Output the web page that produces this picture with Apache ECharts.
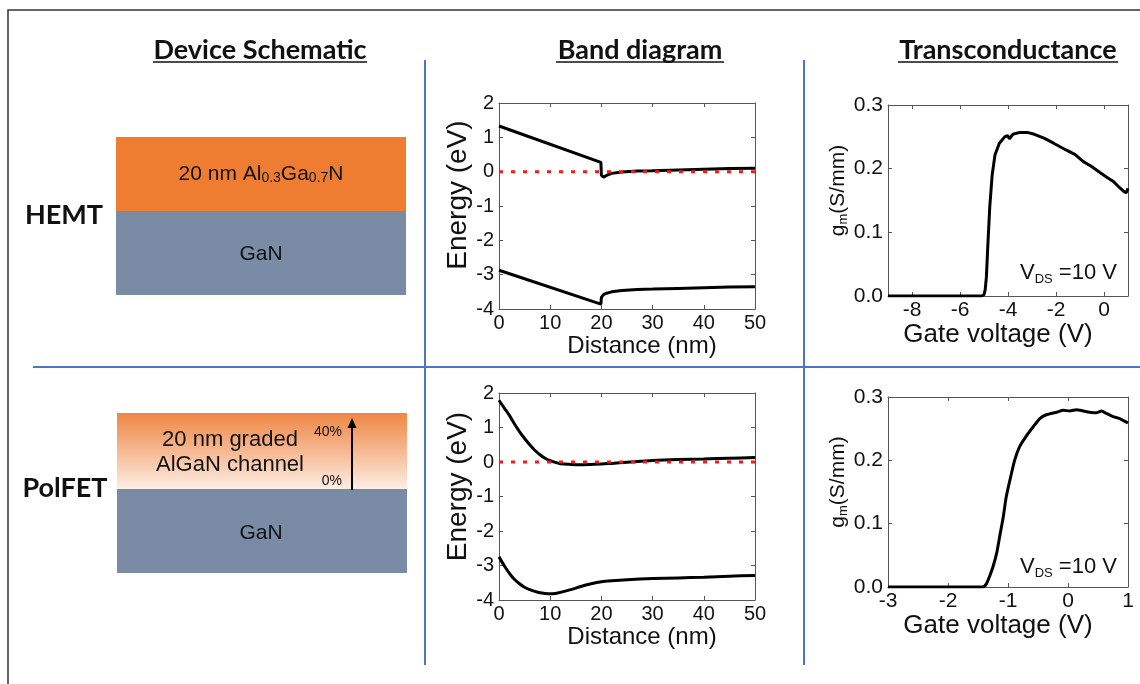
<!DOCTYPE html>
<html><head><meta charset="utf-8">
<script src="https://cdn.jsdelivr.net/npm/echarts@6/dist/echarts.min.js"></script>
<style>html,body{margin:0;padding:0;background:#fff}#c{width:1140px;height:684px}</style>
</head><body><div id="c"></div>
<script>
// ---------- Band diagram: HEMT ----------
const hemtBandX = [0, 19.9, 20.0, 20.4, 21, 22, 24, 27, 30, 35, 40, 45, 50];
const hemtCB = [1.33, 0.27, -0.10, -0.16, -0.11, -0.05, -0.01, 0.02, 0.03, 0.05, 0.07, 0.09, 0.10];
const hemtVB = [-2.87, -3.86, -3.66, -3.58, -3.54, -3.50, -3.46, -3.43, -3.42, -3.40, -3.38, -3.36, -3.35];
// ---------- Band diagram: PolFET ----------
const polBandX = [0, 1, 2, 3, 4, 5, 6, 7, 8, 9, 10, 11, 12, 14, 16, 18, 20, 22, 25, 30, 35, 40, 45, 50];
const polCB = [1.79, 1.57, 1.36, 1.11, 0.88, 0.68, 0.50, 0.34, 0.21, 0.11, 0.04, -0.01, -0.05, -0.07, -0.08, -0.07, -0.06, -0.04, -0.01, 0.04, 0.07, 0.09, 0.11, 0.13];
const polVB = [-2.75, -3.0, -3.22, -3.40, -3.53, -3.63, -3.70, -3.75, -3.79, -3.81, -3.82, -3.81, -3.78, -3.70, -3.61, -3.53, -3.47, -3.44, -3.41, -3.38, -3.36, -3.34, -3.31, -3.29];
// Fermi level
const fermiX = [0, 50];
const fermiE = [0, 0];
// ---------- Transconductance: HEMT ----------
const hemtVg = [-9, -6, -5.1, -5.0, -4.95, -4.9, -4.84, -4.76, -4.66, -4.54, -4.36, -4.14, -4.02, -3.94, -3.8, -3.5, -3.2, -2.9, -2.5, -2.1, -1.56, -1.2, -0.86, -0.5, -0.17, 0.1, 0.39, 0.6, 0.8, 0.92, 1.0];
const hemtGm = [0, 0, 0, 0.002, 0.01, 0.03, 0.08, 0.14, 0.19, 0.222, 0.24, 0.25, 0.252, 0.247, 0.254, 0.257, 0.257, 0.254, 0.248, 0.24, 0.229, 0.222, 0.211, 0.203, 0.194, 0.187, 0.18, 0.172, 0.165, 0.162, 0.169];
// ---------- Transconductance: PolFET ----------
const polVg = [-3, -2, -1.42, -1.36, -1.31, -1.25, -1.19, -1.14, -1.08, -1.03, -0.97, -0.89, -0.81, -0.69, -0.58, -0.47, -0.36, -0.19, -0.08, 0.03, 0.14, 0.25, 0.36, 0.47, 0.56, 0.64, 0.75, 0.86, 1.0];
const polGm = [0, 0, 0, 0.005, 0.016, 0.032, 0.053, 0.079, 0.11, 0.142, 0.168, 0.2, 0.221, 0.239, 0.253, 0.266, 0.272, 0.276, 0.279, 0.278, 0.28, 0.278, 0.276, 0.275, 0.278, 0.274, 0.269, 0.266, 0.259];
// ---------- Ticks ----------
const bandXTicks = [0, 10, 20, 30, 40, 50];
const bandYTicks = [-4, -3, -2, -1, 0, 1, 2];
const hemtVgTicks = [-8, -6, -4, -2, 0];
const polVgTicks = [-3, -2, -1, 0, 1];
const gmTicks = [0, 0.1, 0.2, 0.3];

const zip = (xs, ys) => xs.map((x, i) => [x, ys[i]]);
const FONT = "'Liberation Sans', Arial, sans-serif";
const HFONT = "Lato, 'Open Sans', sans-serif";
const AXC = '#555';

function xAxes(grid, min, max, ticks, name, gap, nameSize, labelSize, pad) {
  return [
    { type: 'value', gridIndex: grid, min, max, position: 'bottom',
      axisLine: { onZero: false, lineStyle: { color: AXC, width: 1 } },
      axisTick: { inside: true, length: 4, customValues: ticks, lineStyle: { color: AXC } },
      axisLabel: { customValues: ticks, color: '#111', fontSize: labelSize, fontFamily: FONT, margin: 4 },
      splitLine: { show: false },
      name, nameLocation: 'middle', nameGap: gap,
      nameTextStyle: { color: '#111', fontSize: nameSize, fontFamily: FONT, padding: pad } },
    { type: 'value', gridIndex: grid, min, max, position: 'top',
      axisLine: { onZero: false, lineStyle: { color: AXC, width: 1 } },
      axisTick: { inside: true, length: 4, customValues: ticks, lineStyle: { color: AXC } },
      axisLabel: { show: false }, splitLine: { show: false } }
  ];
}
function yAxes(grid, min, max, ticks, name, gap, nameSize, labelSize, fmt, rich, pad) {
  return [
    { type: 'value', gridIndex: grid, min, max, position: 'left',
      axisLine: { show: true, onZero: false, lineStyle: { color: AXC, width: 1 } },
      axisTick: { show: true, inside: true, length: 4, customValues: ticks, lineStyle: { color: AXC } },
      axisLabel: { customValues: ticks, color: '#111', fontSize: labelSize, fontFamily: FONT, margin: 5, formatter: fmt },
      splitLine: { show: false },
      name, nameLocation: 'middle', nameGap: gap, nameRotate: 90,
      nameTextStyle: { color: '#111', fontSize: nameSize, fontFamily: FONT, rich, padding: pad } },
    { type: 'value', gridIndex: grid, min, max, position: 'right',
      axisLine: { show: true, onZero: false, lineStyle: { color: AXC, width: 1 } },
      axisTick: { show: true, inside: true, length: 4, customValues: ticks, lineStyle: { color: AXC } },
      axisLabel: { show: false }, splitLine: { show: false } }
  ];
}

const gmRich = {
  n: { fontSize: 21, fontFamily: FONT, color: '#111' },
  s: { fontSize: 13, fontFamily: FONT, color: '#111', padding: [10, 0, 0, 0] }
};
const gmName = '{n|g}{s|m}{n|(S/mm)}';
const f1 = v => v.toFixed(1);

const blk = { color: '#000', width: 3 };
function line(xi, yi, data, smooth) {
  return { type: 'line', xAxisIndex: xi, yAxisIndex: yi, data, showSymbol: false, smooth: smooth || false,
    lineStyle: blk, itemStyle: { color: '#000' }, silent: true, animation: false };
}
function fermi(xi, yi) {
  return { type: 'line', xAxisIndex: xi, yAxisIndex: yi, data: zip(fermiX, fermiE), showSymbol: false,
    lineStyle: { color: '#f21b1b', width: 3, type: [4, 8] }, silent: true, animation: false, z: 5 };
}

const chart = echarts.init(document.getElementById('c'));

const option = {
  animation: false,
  backgroundColor: '#fff',
  grid: [
    { left: 499, top: 103, width: 256, height: 206 },
    { left: 499, top: 393, width: 256, height: 207 },
    { left: 888, top: 105, width: 240, height: 191 },
    { left: 888, top: 397, width: 240, height: 190 }
  ],
  xAxis: [
    ...xAxes(0, 0, 50, bandXTicks, 'Distance (nm)', 22, 24, 20, [0, 0, 0, 30]),
    ...xAxes(1, 0, 50, bandXTicks, 'Distance (nm)', 23, 24, 20, [0, 0, 0, 30]),
    ...xAxes(2, -9, 1, hemtVgTicks, 'Gate voltage (V)', 13, 26, 21, [0, 20, 0, 0]),
    ...xAxes(3, -3, 1, polVgTicks, 'Gate voltage (V)', 22, 26, 21, [0, 20, 0, 0])
  ],
  yAxis: [
    ...yAxes(0, -4, 2, bandYTicks, 'Energy (eV)', 22, 28, 20, null, null, [0, 0, 0, 22]),
    ...yAxes(1, -4, 2, bandYTicks, 'Energy (eV)', 22, 28, 20, null, null, [0, 0, 0, 20]),
    ...yAxes(2, 0, 0.3, gmTicks, gmName, 38, 21, 21, f1, gmRich, [0, 0, 0, 20]),
    ...yAxes(3, 0, 0.3, gmTicks, gmName, 38, 21, 21, f1, gmRich, [0, 0, 0, 20])
  ],
  series: [
    line(0, 0, zip(hemtBandX, hemtCB)),
    line(0, 0, zip(hemtBandX, hemtVB)),
    fermi(0, 0),
    line(2, 2, zip(polBandX, polCB), 0.3),
    line(2, 2, zip(polBandX, polVB), 0.3),
    fermi(2, 2),
    line(4, 4, zip(hemtVg, hemtGm)),
    line(6, 6, zip(polVg, polGm), 0.2)
  ],
  graphic: [
    // frame
    { type: 'rect', shape: { x: 8, y: 10, width: 1200, height: 720 }, style: { fill: 'none', stroke: '#333', lineWidth: 1.5 }, z: 1 },
    // dividers
    { type: 'line', shape: { x1: 425, y1: 60, x2: 425, y2: 665 }, style: { stroke: '#4a76c4', lineWidth: 2 } },
    { type: 'line', shape: { x1: 804, y1: 60, x2: 804, y2: 665 }, style: { stroke: '#4a76c4', lineWidth: 2 } },
    { type: 'line', shape: { x1: 33, y1: 367, x2: 1140, y2: 367 }, style: { stroke: '#4a76c4', lineWidth: 2 } },
    // headers
    { type: 'text', style: { x: 260, y: 50, text: 'Device Schematic', fontSize: 27, fontWeight: 'bold', fontFamily: HFONT, fill: '#111', align: 'center', verticalAlign: 'middle' } },
    { type: 'line', shape: { x1: 153, y1: 62, x2: 367, y2: 62 }, style: { stroke: '#111', lineWidth: 1.5 } },
    { type: 'text', style: { x: 640, y: 50, text: 'Band diagram', fontSize: 27, fontWeight: 'bold', fontFamily: HFONT, fill: '#111', align: 'center', verticalAlign: 'middle' } },
    { type: 'line', shape: { x1: 556, y1: 62, x2: 724, y2: 62 }, style: { stroke: '#111', lineWidth: 1.5 } },
    { type: 'text', style: { x: 1008, y: 50, text: 'Transconductance', fontSize: 27, fontWeight: 'bold', fontFamily: HFONT, fill: '#111', align: 'center', verticalAlign: 'middle' } },
    { type: 'line', shape: { x1: 898, y1: 62, x2: 1118, y2: 62 }, style: { stroke: '#111', lineWidth: 1.5 } },
    // HEMT schematic
    { type: 'rect', shape: { x: 116, y: 137, width: 290, height: 74 }, style: { fill: '#ee7d32' } },
    { type: 'rect', shape: { x: 116, y: 211, width: 290, height: 84 }, style: { fill: '#7a8ca5' } },
    { type: 'text', style: { x: 261, y: 174, text: '{n|20 nm Al}{s|0.3}{n|Ga}{s|0.7}{n|N}', align: 'center', verticalAlign: 'middle', fill: '#111',
      rich: { n: { fontSize: 21, fontFamily: FONT, fill: '#111' }, s: { fontSize: 14, fontFamily: FONT, fill: '#111', padding: [9, 0, 0, 0] } } } },
    { type: 'text', style: { x: 261, y: 254, text: 'GaN', fontSize: 21, fontFamily: FONT, fill: '#111', align: 'center', verticalAlign: 'middle' } },
    { type: 'text', style: { x: 64, y: 215, text: 'HEMT', fontSize: 27, fontWeight: 'bold', fontFamily: HFONT, fill: '#111', align: 'center', verticalAlign: 'middle' } },
    // PolFET schematic
    { type: 'rect', shape: { x: 117, y: 413, width: 290, height: 76 },
      style: { fill: new echarts.graphic.LinearGradient(0, 0, 0, 1, [{ offset: 0, color: '#ee8744' }, { offset: 0.5, color: '#f6b892' }, { offset: 1, color: '#fdeee4' }]) } },
    { type: 'rect', shape: { x: 117, y: 489, width: 290, height: 84 }, style: { fill: '#7a8ca5' } },
    { type: 'text', style: { x: 230, y: 440, text: '20 nm graded', fontSize: 22, fontFamily: FONT, fill: '#111', align: 'center', verticalAlign: 'middle' } },
    { type: 'text', style: { x: 230, y: 465, text: 'AlGaN channel', fontSize: 22, fontFamily: FONT, fill: '#111', align: 'center', verticalAlign: 'middle' } },
    { type: 'text', style: { x: 261, y: 533, text: 'GaN', fontSize: 21, fontFamily: FONT, fill: '#111', align: 'center', verticalAlign: 'middle' } },
    { type: 'text', style: { x: 342, y: 432, text: '40%', fontSize: 14, fontFamily: FONT, fill: '#111', align: 'right', verticalAlign: 'middle' } },
    { type: 'text', style: { x: 342, y: 481, text: '0%', fontSize: 14, fontFamily: FONT, fill: '#111', align: 'right', verticalAlign: 'middle' } },
    { type: 'line', shape: { x1: 352, y1: 490, x2: 352, y2: 424 }, style: { stroke: '#000', lineWidth: 2 } },
    { type: 'polygon', shape: { points: [[352, 418], [347.5, 428], [356.5, 428]] }, style: { fill: '#000' } },
    { type: 'text', style: { x: 65, y: 488, text: 'PolFET', fontSize: 27, fontWeight: 'bold', fontFamily: HFONT, fill: '#111', align: 'center', verticalAlign: 'middle' } },
    // V_DS annotations
    { type: 'text', style: { x: 1020, y: 273, text: '{n|V}{s|DS}{n| =10 V}', align: 'left', verticalAlign: 'middle', fill: '#111',
      rich: { n: { fontSize: 22, fontFamily: FONT, fill: '#111' }, s: { fontSize: 13, fontFamily: FONT, fill: '#111', padding: [12, 0, 0, 0] } } }, z: 10 },
    { type: 'text', style: { x: 1020, y: 567, text: '{n|V}{s|DS}{n| =10 V}', align: 'left', verticalAlign: 'middle', fill: '#111',
      rich: { n: { fontSize: 22, fontFamily: FONT, fill: '#111' }, s: { fontSize: 13, fontFamily: FONT, fill: '#111', padding: [12, 0, 0, 0] } } }, z: 10 }
  ]
};
chart.setOption(option);
</script></body></html>
